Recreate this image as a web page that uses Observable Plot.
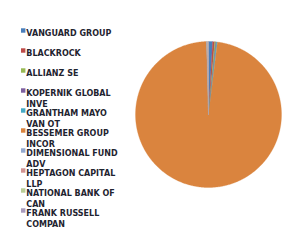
<!DOCTYPE html>
<html>
<head>
<meta charset="utf-8">
<script src="https://cdn.jsdelivr.net/npm/d3@7"></script>
<script src="https://cdn.jsdelivr.net/npm/@observablehq/plot@0.6"></script>
<style>
  html, body { margin: 0; padding: 0; background: #fff; }
  #wrap { position: relative; width: 296px; height: 246px; overflow: hidden; }
  #wrap > svg, #wrap > figure { position: absolute; left: 0; top: 0; margin: 0; }
</style>
</head>
<body>
<div id="wrap"></div>
<script>
const holders = ["VANGUARD GROUP", "BLACKROCK", "ALLIANZ SE", "KOPERNIK GLOBAL INVE", "GRANTHAM MAYO VAN OT",
  "BESSEMER GROUP INCOR", "DIMENSIONAL FUND ADV", "HEPTAGON CAPITAL LLP", "NATIONAL BANK OF CAN", "FRANK RUSSELL COMPAN"];
const shares = [0.9, 0.45, 0.25, 0.15, 0.2, 97.61, 0.2, 0.1, 0.08, 0.06];
const colors = ["#4A7EBB", "#BE4B48", "#98B954", "#7D60A0", "#46AAC5", "#DA843E", "#93A9CF", "#D19392", "#B9CD96", "#A99BBD"];

const data = holders.map((name, i) => ({name, value: shares[i]}));
const arcs = d3.pie().sort(null).value(d => d.value)(data);
const pts = [];
for (const a of arcs) {
  const name = a.data.name;
  pts.push({name, x: 0, y: 0});
  const n = Math.max(2, Math.ceil((a.endAngle - a.startAngle) / 0.01));
  for (let k = 0; k <= n; k++) {
    const t = a.startAngle + (a.endAngle - a.startAngle) * k / n;
    pts.push({name, x: Math.sin(t), y: Math.cos(t)});
  }
  pts.push({name, x: 0, y: 0});
}

const pie = Plot.plot({
  width: 296, height: 246,
  marginLeft: 135, marginRight: 15, marginTop: 41, marginBottom: 59,
  x: {domain: [-1, 1], axis: null},
  y: {domain: [-1, 1], axis: null},
  color: {domain: holders, range: colors},
  marks: [
    Plot.line(pts, {x: "x", y: "y", z: "name", fill: "name", stroke: "name", strokeWidth: 0.3, curve: "linear"})
  ]
});

const legend = Plot.plot({
  width: 140, height: 246,
  marginLeft: 0, marginRight: 0, marginTop: 0, marginBottom: 0,
  x: {axis: null},
  y: {type: "point", domain: holders, range: [19.5, 219.5], axis: null},
  color: {domain: holders, range: colors},
  marks: [
    Plot.dot(holders, {y: d => d, fill: d => d, symbol: "square", r: 2.5, frameAnchor: "left", dx: 22.7}),
    Plot.text(holders, {y: d => d, text: d => d, frameAnchor: "left", dx: 25.8, dy: -3, textAnchor: "start",
      lineAnchor: "top", lineWidth: 11.3, lineHeight: 1.44, fontSize: 8, fontWeight: "bold",
      fontFamily: "DejaVu Sans", fill: "#1f2430"})
  ]
});
legend.style.background = "transparent";
pie.style.background = "transparent";
const wrap = document.getElementById("wrap");
wrap.append(pie, legend);
</script>
</body>
</html>
